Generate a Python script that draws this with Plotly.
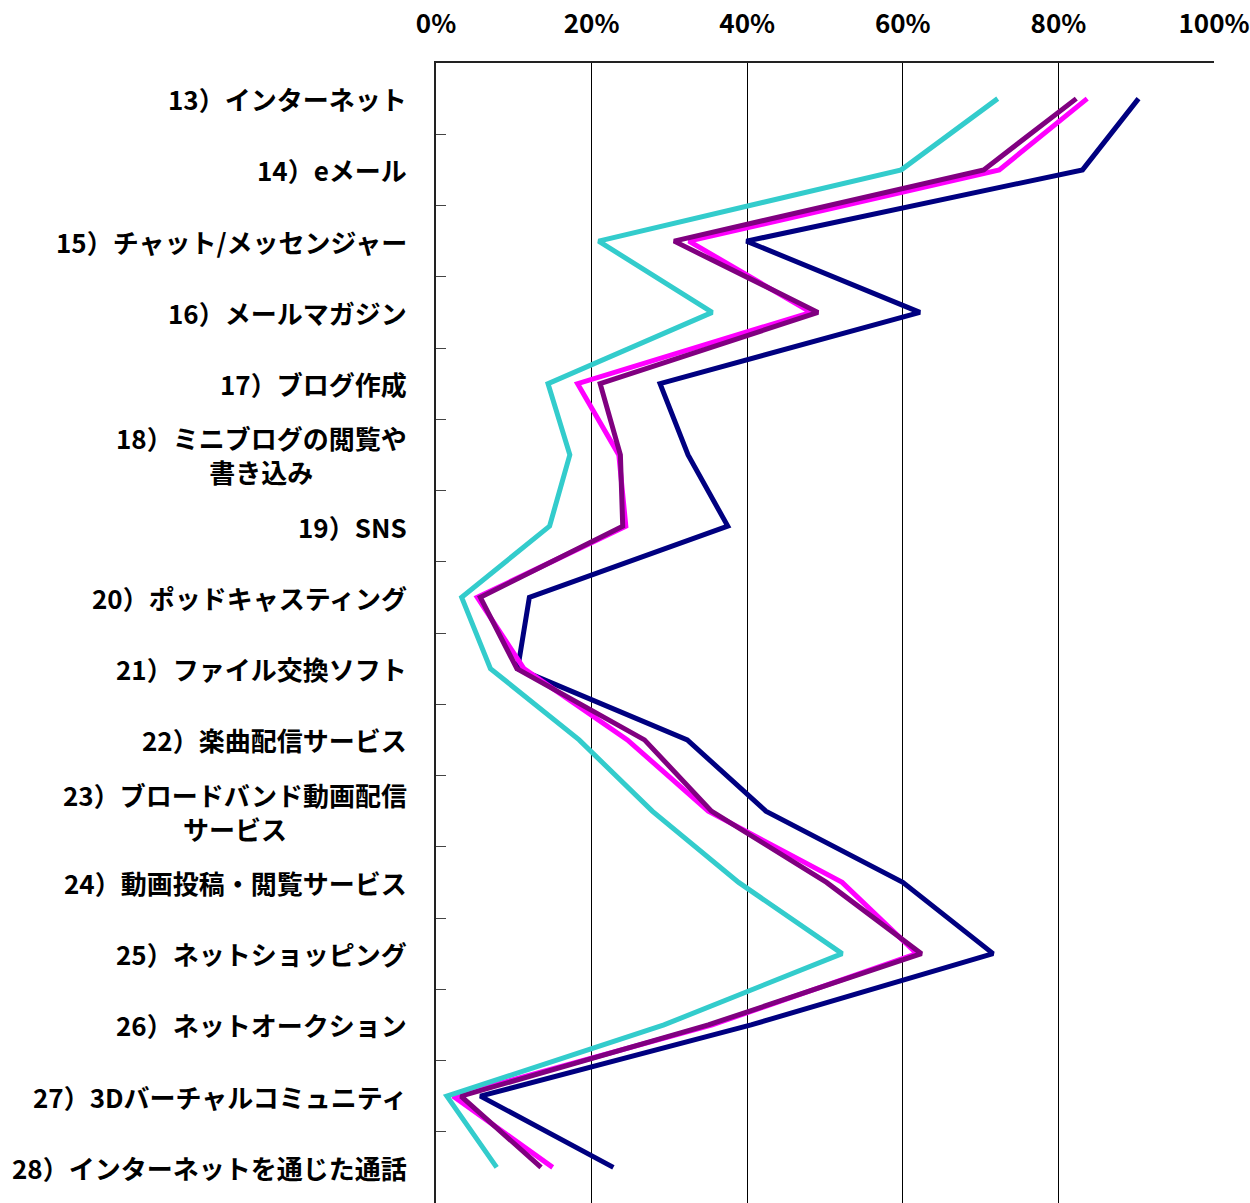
import plotly.graph_objects as go

categories = [
    "13）インターネット",
    "14）eメール",
    "15）チャット/メッセンジャー",
    "16）メールマガジン",
    "17）ブログ作成",
    "18）ミニブログの閲覧や書き込み",
    "19）SNS",
    "20）ポッドキャスティング",
    "21）ファイル交換ソフト",
    "22）楽曲配信サービス",
    "23）ブロードバンド動画配信サービス",
    "24）動画投稿・閲覧サービス",
    "25）ネットショッピング",
    "26）ネットオークション",
    "27）3Dバーチャルコミュニティ",
    "28）インターネットを通じた通話",
]
labels = [
    "13）インターネット",
    "14）eメール",
    "15）チャット/メッセンジャー",
    "16）メールマガジン",
    "17）ブログ作成",
    "18）ミニブログの閲覧や<br>書き込み",
    "19）SNS",
    "20）ポッドキャスティング",
    "21）ファイル交換ソフト",
    "22）楽曲配信サービス",
    "23）ブロードバンド動画配信<br>サービス",
    "24）動画投稿・閲覧サービス",
    "25）ネットショッピング",
    "26）ネットオークション",
    "27）3Dバーチャルコミュニティ",
    "28）インターネットを通じた通話",
]

navy = [90.3, 83.1, 39.9, 62.2, 28.8, 32.4, 37.5, 12.0, 10.5, 32.3, 42.4, 60.0, 71.6, 40.5, 5.7, 22.8]
purple = [82.3, 70.4, 30.6, 49.1, 21.1, 23.7, 24.0, 5.7, 10.4, 26.8, 35.4, 50.2, 62.4, 35.0, 3.2, 13.5]
magenta = [83.7, 72.4, 32.5, 48.2, 18.2, 23.5, 24.4, 5.3, 11.3, 24.6, 35.0, 52.2, 61.8, 35.5, 2.2, 15.0]
cyan = [72.2, 59.8, 20.9, 35.5, 14.4, 17.2, 14.6, 3.3, 7.0, 18.4, 27.8, 38.9, 52.2, 29.3, 1.4, 7.8]

x_tickvals = [0, 20, 40, 60, 80, 100]
x_ticktext = ["0%", "20%", "40%", "60%", "80%", "100%"]

series = [
    ("navy", navy, "#000080"),
    ("magenta", magenta, "#FF00FF"),
    ("purple", purple, "#800080"),
    ("cyan", cyan, "#33CCCC"),
]

FONT = "Noto Sans CJK JP"

fig = go.Figure()
for name, vals, col in series:
    fig.add_trace(go.Scatter(
        x=vals, y=categories, mode="lines", name=name,
        line=dict(color=col, width=5),
        showlegend=False, hoverinfo="skip",
    ))

for cat, lab in zip(categories, labels):
    fig.add_annotation(
        x=0, xref="paper", y=cat, yref="y",
        text=lab, showarrow=False, xanchor="right", yanchor="middle",
        align="center", xshift=-27,
        font=dict(family=FONT, size=26, color="black", weight="bold"),
    )

fig.update_layout(
    width=1250, height=1203,
    margin=dict(l=436, r=36, t=63, b=0),
    paper_bgcolor="white", plot_bgcolor="white",
    font=dict(family=FONT, color="black"),
)
fig.update_xaxes(
    side="top", range=[0, 100],
    tickvals=x_tickvals, ticktext=x_ticktext,
    tickfont=dict(family=FONT, size=26, color="black", weight="bold"),
    ticklabelstandoff=18,
    showgrid=True, gridcolor="black", gridwidth=1,
    showline=True, linecolor="#222222", linewidth=2,
    zeroline=False, ticks="",
)
fig.update_yaxes(
    type="category", categoryorder="array", categoryarray=categories,
    range=[len(categories) - 0.5, -0.5], autorange=False,
    showticklabels=False,
    tickson="boundaries", ticks="inside", ticklen=10, tickcolor="#444444", tickwidth=1,
    showgrid=False,
    showline=True, linecolor="#222222", linewidth=2,
    zeroline=False,
)

fig.write_html("out.html")
